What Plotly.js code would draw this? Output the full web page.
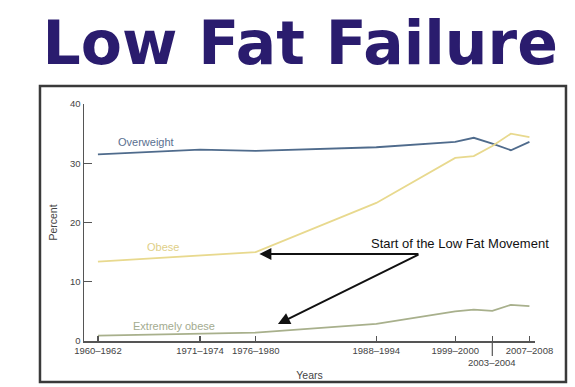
<!DOCTYPE html>
<html>
<head>
<meta charset="utf-8">
<script src="https://cdn.plot.ly/plotly-3.0.1.min.js"></script>
<style>
  html, body { margin: 0; padding: 0; background: #fff; }
  #chart { width: 575px; height: 387px; }
</style>
</head>
<body>
<div id="chart"></div>
<script>
// Survey periods (x positions are the period midpoints used for placement)
const periods = ["1960–1962", "1971–1974", "1976–1980", "1988–1994", "1999–2000", "2001–2002", "2003–2004", "2005–2006", "2007–2008"];
const periodX = [1961, 1972, 1978, 1991, 1999.5, 2001.5, 2003.5, 2005.5, 2007.5];

const overweight = [31.5, 32.3, 32.1, 32.7, 33.6, 34.3, 33.3, 32.2, 33.6];
const obese = [13.4, 14.5, 15.0, 23.3, 30.9, 31.2, 32.9, 35.0, 34.4];
const extremelyObese = [0.9, 1.3, 1.4, 2.9, 5.0, 5.3, 5.1, 6.1, 5.9];

const tickVals = [1961, 1972, 1978, 1991, 1999.5, 2003.5, 2007.5];
const tickText = ["1960–1962", "1971–1974", "1976–1980", "1988–1994", "1999–2000", "", "2007–2008"];
const lowerTickLabel = "2003–2004";

const yTicks = [0, 10, 20, 30, 40];

const colors = { overweight: "#4f6b8c", obese: "#e8d98e", extreme: "#a8b08c" };
const FONT = "Liberation Sans, Arial, sans-serif";
const tickFont = { family: FONT, size: 9.5, color: "#444" };

const traces = [
  { x: periodX, y: overweight, name: "Overweight", mode: "lines", line: { color: colors.overweight, width: 1.8 } },
  { x: periodX, y: obese, name: "Obese", mode: "lines", line: { color: colors.obese, width: 1.8 } },
  { x: periodX, y: extremelyObese, name: "Extremely obese", mode: "lines", line: { color: colors.extreme, width: 1.8 } }
];

const layout = {
  width: 575, height: 387,
  margin: { l: 84, r: 40, t: 104, b: 46 },
  paper_bgcolor: "#fff", plot_bgcolor: "#fff",
  showlegend: false,
  title: {
    text: "<b>Low Fat Failure</b>",
    font: { family: "DejaVu Sans, sans-serif", size: 60, color: "#2a1c6e" },
    x: 0.522, xanchor: "center", xref: "container",
    y: 0.889, yanchor: "middle", yref: "container"
  },
  xaxis: {
    range: [1959.5, 2008.1],
    tickvals: tickVals, ticktext: tickText,
    ticks: "inside", ticklen: 5, tickwidth: 1.2, tickcolor: "#555",
    showline: true, linecolor: "#555", linewidth: 1.5,
    showgrid: false, zeroline: false,
    tickfont: tickFont,
    title: { text: "Years", font: { family: FONT, size: 10.5, color: "#444" }, standoff: 16 }
  },
  yaxis: {
    range: [0, 40],
    tickvals: yTicks,
    ticks: "inside", ticklen: 8, tickwidth: 1.2, tickcolor: "#555",
    showline: true, linecolor: "#555", linewidth: 1.5,
    showgrid: false, zeroline: false,
    tickfont: tickFont,
    title: { text: "Percent", font: { family: FONT, size: 10.5, color: "#444" }, standoff: 10 }
  },
  shapes: [
    { type: "rect", xref: "paper", yref: "paper", x0: -0.0976, x1: 1.0687, y0: -0.173, y1: 1.076,
      line: { color: "#3a3a3a", width: 2.5 }, layer: "below" },
    { type: "line", xref: "x", yref: "paper", x0: 2003.5, x1: 2003.5, y0: -0.063, y1: 0,
      line: { color: "#555", width: 1.2 } }
  ],
  annotations: [
    { x: 1966.2, y: 33.6, xref: "x", yref: "y", text: "Overweight", showarrow: false,
      font: { family: FONT, size: 11, color: "#5a7090" } },
    { x: 1968.0, y: 15.8, xref: "x", yref: "y", text: "Obese", showarrow: false,
      font: { family: FONT, size: 11, color: "#e0cf88" } },
    { x: 1969.2, y: 2.6, xref: "x", yref: "y", text: "Extremely obese", showarrow: false,
      font: { family: FONT, size: 11, color: "#a3ab90" } },
    { x: 2000.0, y: 16.5, xref: "x", yref: "y", text: "Start of the Low Fat Movement", showarrow: false,
      font: { family: FONT, size: 13, color: "#111" } },
    { x: 1978.4, y: 14.7, xref: "x", yref: "y", ax: 1995.7, ay: 14.7, axref: "x", ayref: "y",
      text: "", showarrow: true, arrowhead: 2, arrowsize: 1.2, arrowwidth: 2, arrowcolor: "#111" },
    { x: 1980.4, y: 2.87, xref: "x", yref: "y", ax: 1995.7, ay: 14.7, axref: "x", ayref: "y",
      text: "", showarrow: true, arrowhead: 2, arrowsize: 1.2, arrowwidth: 2, arrowcolor: "#111" },
    { x: 2003.5, y: -0.06, xref: "x", yref: "paper", yanchor: "top", text: lowerTickLabel, showarrow: false,
      font: tickFont }
  ]
};

Plotly.newPlot("chart", traces, layout, { displayModeBar: false, staticPlot: true });
</script>
</body>
</html>
